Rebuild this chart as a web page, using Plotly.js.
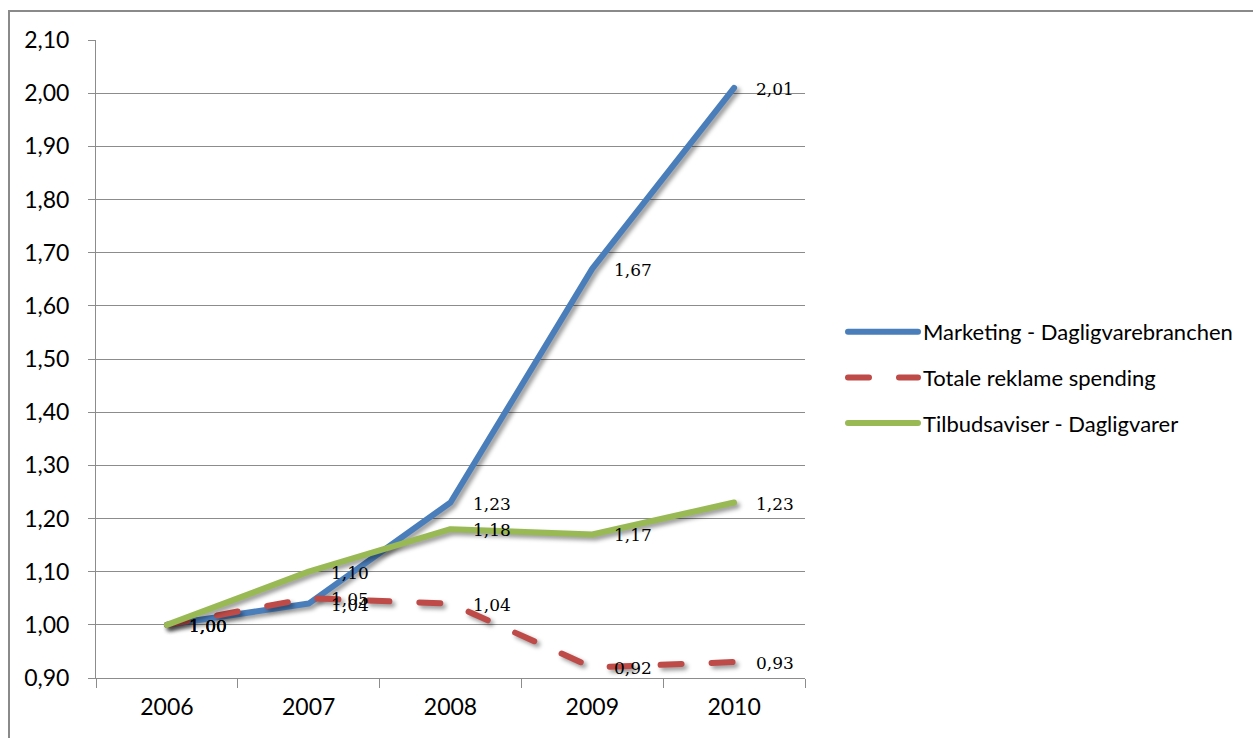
<!DOCTYPE html>
<html>
<head>
<meta charset="utf-8">
<script src="https://cdn.plot.ly/plotly-3.0.1.min.js"></script>
<style>
  html, body { margin: 0; padding: 0; background: #fff; }
  #frame { position: absolute; left: 8px; top: 10px; width: 1400px; height: 900px;
           border-left: 2px solid #8a8a8a; border-top: 2px solid #8a8a8a; pointer-events: none; z-index: 5; }
  #chart { position: absolute; left: 0; top: 0; width: 1253px; height: 738px; }
  .scatterlayer .js-line { stroke-linecap: round; stroke-linejoin: round;
           filter: drop-shadow(3px 3px 2px rgba(0,0,0,0.40)); }
  .legendlines path { stroke-linecap: round; }
</style>
</head>
<body>
<div id="chart"></div>
<div id="frame"></div>
<script>
// ---- data ----
const years = ['2006', '2007', '2008', '2009', '2010'];
const marketing = [1.00, 1.04, 1.23, 1.67, 2.01];
const totale = [1.00, 1.05, 1.04, 0.92, 0.93];
const tilbud = [1.00, 1.10, 1.18, 1.17, 1.23];
const seriesNames = ['Marketing - Dagligvarebranchen', 'Totale reklame spending', 'Tilbudsaviser - Dagligvarer'];
const yTickVals = [0.90, 1.00, 1.10, 1.20, 1.30, 1.40, 1.50, 1.60, 1.70, 1.80, 1.90, 2.00, 2.10];
const yTickText = ['0,90', '1,00', '1,10', '1,20', '1,30', '1,40', '1,50', '1,60', '1,70', '1,80', '1,90', '2,00', '2,10'];

const colors = ['#4A7EBB', '#BE4B48', '#98B954'];
const dashes = ['solid', '21px,30px', 'solid'];
const allSeries = [marketing, totale, tilbud];

const traces = allSeries.map((vals, i) => ({
  type: 'scatter', mode: 'lines', x: years, y: vals, name: seriesNames[i],
  legendgroup: 'g' + i,
  line: { color: colors[i], width: 6, dash: dashes[i] },
  hoverinfo: 'skip', cliponaxis: false
}));

const fmt = v => v.toFixed(2).replace('.', ',');
const annotations = [];
allSeries.forEach(vals => {
  vals.forEach((v, j) => {
    annotations.push({
      x: j, y: v, xref: 'x', yref: 'y', text: fmt(v), showarrow: false,
      xanchor: 'left', yanchor: 'middle', xshift: 20, yshift: -1,
      font: { family: 'DejaVu Serif', size: 17, color: '#000' }
    });
  });
});

const layout = {
  width: 1253, height: 738,
  margin: { l: 96, r: 448, t: 40, b: 60 },
  paper_bgcolor: '#fff', plot_bgcolor: '#fff',
  font: { family: 'Lato', color: '#000' },
  showlegend: true,
  legend: {
    x: 1.0536, xanchor: 'left', y: 0.471, yanchor: 'middle',
    itemwidth: 70, tracegroupgap: 14, traceorder: 'grouped',
    font: { family: 'Lato', size: 22, color: '#000' },
    bgcolor: 'rgba(0,0,0,0)'
  },
  xaxis: {
    type: 'category', range: [-0.5, 4.5], tickson: 'boundaries',
    showgrid: false, zeroline: false, showline: true, linecolor: '#8c8c8c', linewidth: 1,
    ticks: 'outside', ticklen: 9, tickcolor: '#8c8c8c', tickwidth: 1,
    tickfont: { family: 'Lato', size: 23, color: '#000' }, ticklabelstandoff: 8,
    fixedrange: true
  },
  yaxis: {
    range: [0.90, 2.10], tickvals: yTickVals, ticktext: yTickText,
    showgrid: true, gridcolor: '#8c8c8c', gridwidth: 1, zeroline: false,
    showline: true, linecolor: '#8c8c8c', linewidth: 1,
    ticks: 'outside', ticklen: 7, tickcolor: '#8c8c8c', tickwidth: 1,
    tickfont: { family: 'Lato', size: 23, color: '#000' }, ticklabelstandoff: 14,
    fixedrange: true
  },
  annotations: annotations
};

Plotly.newPlot('chart', traces, layout, { staticPlot: true, displayModeBar: false });
</script>
</body>
</html>
